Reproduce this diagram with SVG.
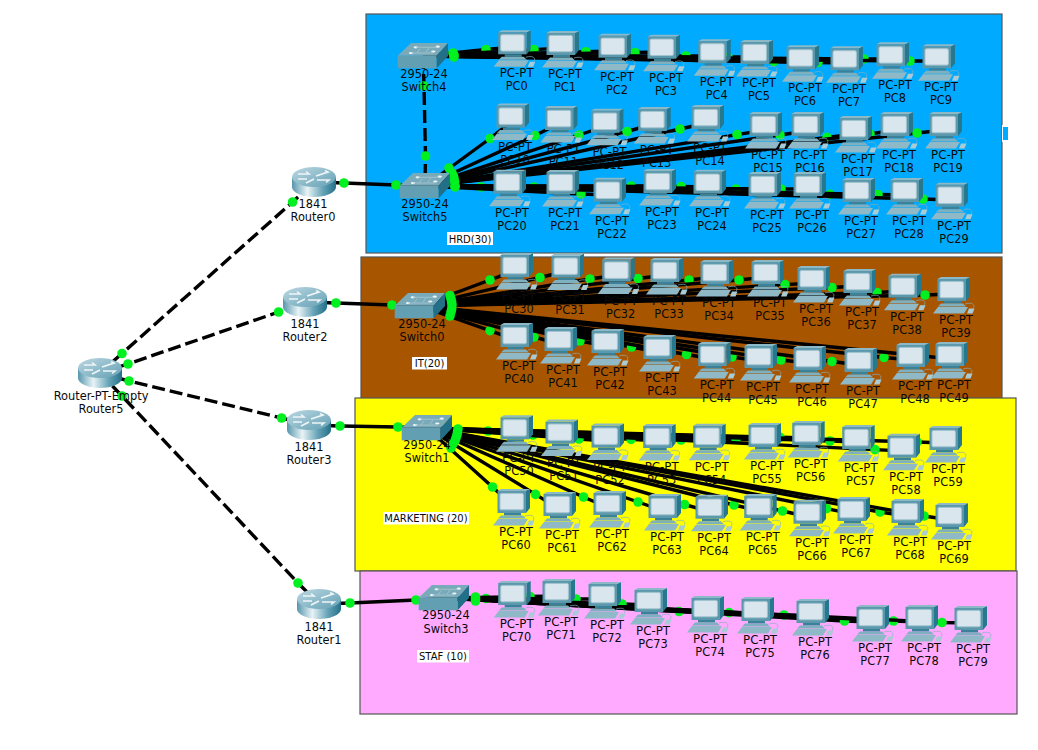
<svg xmlns="http://www.w3.org/2000/svg" width="1038" height="750" viewBox="0 0 1038 750">
<style>
text{font-family:"DejaVu Sans",sans-serif;font-size:11.4px;text-anchor:middle;fill:#0a0a0a}
[id^="PC"] text:first-of-type{font-size:11.8px}
.note text{font-size:10px}
.note rect{fill:#fff}
.area{stroke:#555;stroke-width:1.2}
.l{fill:none;stroke:#000;stroke-width:3.4;marker-mid:url(#dot)}
.d{stroke-width:3.4;stroke-dasharray:13 5}
.p{fill:#00f020}
</style>
<defs>
<marker id="dot" markerUnits="userSpaceOnUse" markerWidth="12" markerHeight="12" viewBox="-6 -6 12 12" refX="0" refY="0" overflow="visible"><circle r="4.8" fill="#00f020"/></marker>
<linearGradient id="rb" x1="0" x2="1" y1="0" y2="0"><stop offset="0" stop-color="#5796ac"/><stop offset=".35" stop-color="#e8f3f6"/><stop offset=".7" stop-color="#66a3b7"/><stop offset="1" stop-color="#237088"/></linearGradient>
<linearGradient id="rt" x1="0" x2="1" y1="0" y2="1"><stop offset="0" stop-color="#bcd8e2"/><stop offset="1" stop-color="#63a0b4"/></linearGradient>
<g id="pc">
<path d="M10,-41L14,-43V-24L10,-19Z" fill="#26788f"/>
<path d="M-18.5,-41L-15,-43H14L10,-41Z" fill="#8db9c7"/>
<rect x="-18.5" y="-41" width="28.5" height="22" fill="#5b98ab"/>
<rect x="-16" y="-38.6" width="23.4" height="16.4" rx="1.5" fill="#d9e6ed" stroke="#a2c4d0"/>
<path d="M-12,-19H5V-16.5H-12Z" fill="#3b8198"/>
<path d="M-15,-16.5H7L10,-13.5H-18Z" fill="#7fb0c0"/>
<path d="M-18,-13H12L8,-6.5H-23Z" fill="#8fb9c6"/>
<path d="M13,-11.5H18.5L16.5,-6.5H11Z" fill="#a9cbd6"/>
<path d="M9,-16C15,-18 20,-16 17,-11.5" fill="none" stroke="#86aebc" stroke-width=".7"/>
</g>
<g id="sw">
<path d="M-12,-13H25L13.7,-.3H-25.3Z" fill="#78aaba"/>
<rect x="-25.3" y="-.3" width="39" height="12.6" fill="#629fb2"/>
<path d="M25,-13V0L13.7,12.3V-.3Z" fill="#217088"/>
<g fill="#eef6f8"><ellipse cx="-7.3" cy="-8.7" rx="2.2" ry="1.1"/><ellipse cx="14.7" cy="-9.3" rx="2.2" ry="1.1"/><ellipse cx="-12" cy="-2.9" rx="2.2" ry="1.1"/><ellipse cx="10.3" cy="-4.5" rx="2.2" ry="1.1"/></g>
<path d="M-7,-8.7H14M-12,-3H10M-3,-7L-6,-3M6,-8L3,-4" stroke="#a9c8d2" stroke-width=".8" fill="none"/>
</g>
<g id="rt-icon">
<path d="M-22,-5V5A22,10 0 0 0 22,5V-5Z" fill="url(#rb)"/>
<ellipse cy="-5" rx="22" ry="10" fill="url(#rt)"/>
<path d="M-16,-8H-5L-8,-10.5M-16,-3H-7M2,-6L14,-10L11,-11.5M3,-2H15L12,0.5M-8,1L0,-3" fill="none" stroke="#eef5f7" stroke-width="1.6"/>
</g>
</defs>
<rect width="1038" height="750" fill="#fff"/>
<g id="areas">
<rect class="area" x="366" y="14" width="636" height="239" fill="#00aaff"/>
<rect x="1002" y="125" width="6" height="17" fill="#fff"/><rect x="1003" y="127" width="5" height="13" fill="#00aaff"/>
<rect class="area" x="361" y="257" width="641" height="142" fill="#a85500"/>
<rect class="area" x="355" y="398" width="661" height="173" fill="#ffff00"/>
<rect class="area" x="360" y="571" width="657" height="143" fill="#ffaaff"/>
</g>
<g id="connectors">
<polyline class="l d" points="100,373 122,353.5 292.6,202 314,182"/>
<polyline class="l d" points="100,373 128,364 278.6,312 305,302"/>
<polyline class="l d" points="100,373 129,381 281.6,418 309,425"/>
<polyline class="l d" points="100,373 122,396 298,583 319,604"/>
<polyline class="l" points="314,182 344,183 396,185 425,186"/>
<polyline class="l" points="305,302 336,303 392,305 420,306"/>
<polyline class="l" points="309,425 340,426 398,427 427,428"/>
<polyline class="l" points="319,604 350,603 416,600 444,598"/>
<polyline class="l d" points="423,56 424,86 425.5,156 425,186"/>
<polyline class="l" points="423,56 486,49.5 514,47"/>
<polyline class="l" points="423,56 534,49.6 562,48"/>
<polyline class="l" points="423,56 586,51.7 614,51"/>
<polyline class="l" points="423,56 635,52.5 663,52"/>
<polyline class="l" points="423,56 686,56 714,56"/>
<polyline class="l" points="423,56 728,57 756,57"/>
<polyline class="l" points="423,56 774,61.6 802,62"/>
<polyline class="l" points="423,56 818,62.5 846,63"/>
<polyline class="l" points="423,56 864,59 892,59"/>
<polyline class="l" points="423,56 910,61 938,61"/>
<polyline class="l" points="425,186 490,138.5 512,121"/>
<polyline class="l" points="425,186 535,135.5 560,123"/>
<polyline class="l" points="425,186 579,135 606,126"/>
<polyline class="l" points="425,186 627,131.5 654,124"/>
<polyline class="l" points="425,186 680,129 707,123"/>
<polyline class="l" points="425,186 737,134.6 765,130"/>
<polyline class="l" points="425,186 780,135 807,131"/>
<polyline class="l" points="425,186 827,137.4 855,134"/>
<polyline class="l" points="425,186 870,134 896,130"/>
<polyline class="l" points="425,186 917,133 945,130"/>
<polyline class="l" points="425,186 481,187 509,187"/>
<polyline class="l" points="425,186 534,187 562,187"/>
<polyline class="l" points="425,186 581,194 609,195"/>
<polyline class="l" points="425,186 631,186 659,186"/>
<polyline class="l" points="425,186 681,186.5 709,187"/>
<polyline class="l" points="425,186 736,189 764,189"/>
<polyline class="l" points="425,186 781,189 809,189"/>
<polyline class="l" points="425,186 830,194.4 858,195"/>
<polyline class="l" points="425,186 878,194.5 906,195"/>
<polyline class="l" points="425,186 923,199 951,200"/>
<polyline class="l" points="420,306 490,280 516,270"/>
<polyline class="l" points="420,306 540,277.5 567,271"/>
<polyline class="l" points="420,306 590,279 618,275"/>
<polyline class="l" points="420,306 638,278.5 666,275"/>
<polyline class="l" points="420,306 689,280 716,277"/>
<polyline class="l" points="420,306 739,280 767,277"/>
<polyline class="l" points="420,306 785,284.6 813,283"/>
<polyline class="l" points="420,306 832,287.5 859,286"/>
<polyline class="l" points="420,306 877,292.5 904,291"/>
<polyline class="l" points="420,306 925,295 953,294"/>
<polyline class="l" points="420,306 490,330.6 516,340"/>
<polyline class="l" points="420,306 534,337 560,344"/>
<polyline class="l" points="420,306 580,341 607,346"/>
<polyline class="l" points="420,306 631.5,347 659,352"/>
<polyline class="l" points="420,306 686.5,354.5 714,359"/>
<polyline class="l" points="420,306 732,357 760,361"/>
<polyline class="l" points="420,306 781,360 809,363"/>
<polyline class="l" points="420,306 832,361.5 860,365"/>
<polyline class="l" points="420,306 884,357.5 912,360"/>
<polyline class="l" points="420,306 923,356 951,359"/>
<polyline class="l" points="427,428 488,431 516,432"/>
<polyline class="l" points="427,428 533,435 561,437"/>
<polyline class="l" points="427,428 579,439 607,441"/>
<polyline class="l" points="427,428 631,439.4 659,441"/>
<polyline class="l" points="427,428 681,440 709,441"/>
<polyline class="l" points="427,428 736,439.5 764,440"/>
<polyline class="l" points="427,428 780,437.3 808,438"/>
<polyline class="l" points="427,428 830,441 858,442"/>
<polyline class="l" points="427,428 875,449.6 903,451"/>
<polyline class="l" points="427,428 917,442 945,443"/>
<polyline class="l" points="427,428 492.5,487 513,506"/>
<polyline class="l" points="427,428 535.5,494.4 559,509"/>
<polyline class="l" points="427,428 583.5,497 609,508"/>
<polyline class="l" points="427,428 638,502 664,511"/>
<polyline class="l" points="427,428 684.5,504.5 711,512"/>
<polyline class="l" points="427,428 734,505 760,511"/>
<polyline class="l" points="427,428 782.5,511 809,517"/>
<polyline class="l" points="427,428 826.5,508.7 853,514"/>
<polyline class="l" points="427,428 880,512 907,516"/>
<polyline class="l" points="427,428 924,516 951,520"/>
<polyline class="l" points="444,598 486,598.5 514,598"/>
<polyline class="l" points="444,598 530,596.5 558,596"/>
<polyline class="l" points="444,598 576,599 604,599"/>
<polyline class="l" points="444,598 622,604 650,605"/>
<polyline class="l" points="444,598 679,611.5 707,613"/>
<polyline class="l" points="444,598 729,612.6 757,614"/>
<polyline class="l" points="444,598 784,615 812,616"/>
<polyline class="l" points="444,598 844.5,621 872,622"/>
<polyline class="l" points="444,598 893.5,621 921,622"/>
<polyline class="l" points="444,598 942,622.5 970,623"/>
<g id="ports" class="p">
<circle cx="453" cy="53" r="4.8"/><circle cx="454" cy="55" r="4.8"/><circle cx="454" cy="57" r="4.8"/>
<circle cx="449" cy="168" r="4.8"/><circle cx="452" cy="173" r="4.8"/><circle cx="453.5" cy="176.5" r="4.8"/><circle cx="454" cy="179" r="4.8"/><circle cx="454.7" cy="182" r="4.8"/><circle cx="455" cy="186" r="4.8"/><circle cx="455" cy="187" r="4.8"/>
<circle cx="450" cy="295.5" r="4.8"/><circle cx="451" cy="299" r="4.8"/><circle cx="451.6" cy="302" r="4.8"/><circle cx="452" cy="305" r="4.8"/><circle cx="451.7" cy="309" r="4.8"/><circle cx="451" cy="312" r="4.8"/><circle cx="450" cy="316" r="4.8"/>
<circle cx="458" cy="429" r="4.8"/><circle cx="457.5" cy="432" r="4.8"/><circle cx="457" cy="435" r="4.8"/><circle cx="456" cy="438" r="4.8"/><circle cx="455" cy="441" r="4.8"/><circle cx="453" cy="444" r="4.8"/><circle cx="451" cy="448" r="4.8"/>
<circle cx="475.5" cy="597" r="4.8"/><circle cx="475.5" cy="599" r="4.8"/><circle cx="475.5" cy="601" r="4.8"/>
</g>
</g>
<g id="Router0" transform="translate(314,182)"><use href="#rt-icon"/><text x="-1" y="26">1841</text><text x="-1" y="39">Router0</text></g>
<g id="Router2" transform="translate(305,302)"><use href="#rt-icon"/><text y="26">1841</text><text y="39">Router2</text></g>
<g id="Router3" transform="translate(309,425)"><use href="#rt-icon"/><text y="26">1841</text><text y="39">Router3</text></g>
<g id="Router1" transform="translate(319,604)"><use href="#rt-icon"/><text y="27">1841</text><text y="40">Router1</text></g>
<g id="Router5" transform="translate(100,373)"><use href="#rt-icon"/><text x="1" y="27">Router-PT-Empty</text><text x="1" y="40">Router5</text></g>
<g id="Switch4" transform="translate(423,56)"><use href="#sw"/><text x="1" y="22">2950-24</text><text x="1" y="35">Switch4</text></g>
<g id="Switch5" transform="translate(425,186)"><use href="#sw"/><text y="22">2950-24</text><text y="35">Switch5</text></g>
<g id="Switch0" transform="translate(420,306)"><use href="#sw"/><text x="2" y="22">2950-24</text><text x="2" y="35">Switch0</text></g>
<g id="Switch1" transform="translate(427,428)"><use href="#sw"/><text y="21">2950-24</text><text y="34">Switch1</text></g>
<g id="Switch3" transform="translate(444,598)"><use href="#sw"/><text x="2" y="21">2950-24</text><text x="2" y="35">Switch3</text></g>
<g id="PC0" transform="translate(516.7,73.3)"><use href="#pc"/><text y="4">PC-PT</text><text y="17">PC0</text></g>
<g id="PC1" transform="translate(565,74)"><use href="#pc"/><text y="4">PC-PT</text><text y="17">PC1</text></g>
<g id="PC2" transform="translate(617,76.7)"><use href="#pc"/><text y="4">PC-PT</text><text y="17">PC2</text></g>
<g id="PC3" transform="translate(666,77.7)"><use href="#pc"/><text y="4">PC-PT</text><text y="17">PC3</text></g>
<g id="PC4" transform="translate(716.7,82.3)"><use href="#pc"/><text y="4">PC-PT</text><text y="17">PC4</text></g>
<g id="PC5" transform="translate(759,83)"><use href="#pc"/><text y="4">PC-PT</text><text y="17">PC5</text></g>
<g id="PC6" transform="translate(805,88.3)"><use href="#pc"/><text y="4">PC-PT</text><text y="17">PC6</text></g>
<g id="PC7" transform="translate(849,89.3)"><use href="#pc"/><text y="4">PC-PT</text><text y="17">PC7</text></g>
<g id="PC8" transform="translate(895,85.3)"><use href="#pc"/><text y="4">PC-PT</text><text y="17">PC8</text></g>
<g id="PC9" transform="translate(941,87.3)"><use href="#pc"/><text y="4">PC-PT</text><text y="17">PC9</text></g>
<g id="PC10" transform="translate(515,146.6)"><use href="#pc"/><text y="4">PC-PT</text><text y="17">PC10</text></g>
<g id="PC11" transform="translate(563.4,149)"><use href="#pc"/><text y="4">PC-PT</text><text y="17">PC11</text></g>
<g id="PC12" transform="translate(609.4,151.7)"><use href="#pc"/><text y="4">PC-PT</text><text y="17">PC12</text></g>
<g id="PC13" transform="translate(656.7,150)"><use href="#pc"/><text y="4">PC-PT</text><text y="17">PC13</text></g>
<g id="PC14" transform="translate(710,148)"><use href="#pc"/><text y="4">PC-PT</text><text y="17">PC14</text></g>
<g id="PC15" transform="translate(768,155)"><use href="#pc"/><text y="4">PC-PT</text><text y="17">PC15</text></g>
<g id="PC16" transform="translate(810,155)"><use href="#pc"/><text y="4">PC-PT</text><text y="17">PC16</text></g>
<g id="PC17" transform="translate(858,159)"><use href="#pc"/><text y="4">PC-PT</text><text y="17">PC17</text></g>
<g id="PC18" transform="translate(899,155)"><use href="#pc"/><text y="4">PC-PT</text><text y="17">PC18</text></g>
<g id="PC19" transform="translate(948,155)"><use href="#pc"/><text y="4">PC-PT</text><text y="17">PC19</text></g>
<g id="PC20" transform="translate(512,212.7)"><use href="#pc"/><text y="4">PC-PT</text><text y="17">PC20</text></g>
<g id="PC21" transform="translate(565,213)"><use href="#pc"/><text y="4">PC-PT</text><text y="17">PC21</text></g>
<g id="PC22" transform="translate(612,220.7)"><use href="#pc"/><text y="4">PC-PT</text><text y="17">PC22</text></g>
<g id="PC23" transform="translate(662,212)"><use href="#pc"/><text y="4">PC-PT</text><text y="17">PC23</text></g>
<g id="PC24" transform="translate(712,212.7)"><use href="#pc"/><text y="4">PC-PT</text><text y="17">PC24</text></g>
<g id="PC25" transform="translate(767,215)"><use href="#pc"/><text y="4">PC-PT</text><text y="17">PC25</text></g>
<g id="PC26" transform="translate(812,215)"><use href="#pc"/><text y="4">PC-PT</text><text y="17">PC26</text></g>
<g id="PC27" transform="translate(861,221)"><use href="#pc"/><text y="4">PC-PT</text><text y="17">PC27</text></g>
<g id="PC28" transform="translate(909,221)"><use href="#pc"/><text y="4">PC-PT</text><text y="17">PC28</text></g>
<g id="PC29" transform="translate(954,225.7)"><use href="#pc"/><text y="4">PC-PT</text><text y="17">PC29</text></g>
<g id="PC30" transform="translate(519,296)"><use href="#pc"/><text y="4">PC-PT</text><text y="17">PC30</text></g>
<g id="PC31" transform="translate(570,296.6)"><use href="#pc"/><text y="4">PC-PT</text><text y="17">PC31</text></g>
<g id="PC32" transform="translate(620.7,300.6)"><use href="#pc"/><text y="4">PC-PT</text><text y="17">PC32</text></g>
<g id="PC33" transform="translate(669,301)"><use href="#pc"/><text y="4">PC-PT</text><text y="17">PC33</text></g>
<g id="PC34" transform="translate(719,303)"><use href="#pc"/><text y="4">PC-PT</text><text y="17">PC34</text></g>
<g id="PC35" transform="translate(770,303)"><use href="#pc"/><text y="4">PC-PT</text><text y="17">PC35</text></g>
<g id="PC36" transform="translate(816,309)"><use href="#pc"/><text y="4">PC-PT</text><text y="17">PC36</text></g>
<g id="PC37" transform="translate(862,312)"><use href="#pc"/><text y="4">PC-PT</text><text y="17">PC37</text></g>
<g id="PC38" transform="translate(907,316.7)"><use href="#pc"/><text y="4">PC-PT</text><text y="17">PC38</text></g>
<g id="PC39" transform="translate(956,320)"><use href="#pc"/><text y="4">PC-PT</text><text y="17">PC39</text></g>
<g id="PC40" transform="translate(519,366)"><use href="#pc"/><text y="4">PC-PT</text><text y="17">PC40</text></g>
<g id="PC41" transform="translate(563,370)"><use href="#pc"/><text y="4">PC-PT</text><text y="17">PC41</text></g>
<g id="PC42" transform="translate(610,372)"><use href="#pc"/><text y="4">PC-PT</text><text y="17">PC42</text></g>
<g id="PC43" transform="translate(662,378)"><use href="#pc"/><text y="4">PC-PT</text><text y="17">PC43</text></g>
<g id="PC44" transform="translate(716.7,385)"><use href="#pc"/><text y="4">PC-PT</text><text y="17">PC44</text></g>
<g id="PC45" transform="translate(763,387)"><use href="#pc"/><text y="4">PC-PT</text><text y="17">PC45</text></g>
<g id="PC46" transform="translate(812,389)"><use href="#pc"/><text y="4">PC-PT</text><text y="17">PC46</text></g>
<g id="PC47" transform="translate(863,391)"><use href="#pc"/><text y="4">PC-PT</text><text y="17">PC47</text></g>
<g id="PC48" transform="translate(915,386)"><use href="#pc"/><text y="4">PC-PT</text><text y="17">PC48</text></g>
<g id="PC49" transform="translate(954,385)"><use href="#pc"/><text y="4">PC-PT</text><text y="17">PC49</text></g>
<g id="PC50" transform="translate(519,458.3)"><use href="#pc"/><text y="4">PC-PT</text><text y="17">PC50</text></g>
<g id="PC51" transform="translate(564,462.6)"><use href="#pc"/><text y="4">PC-PT</text><text y="17">PC51</text></g>
<g id="PC52" transform="translate(610,466.6)"><use href="#pc"/><text y="4">PC-PT</text><text y="17">PC52</text></g>
<g id="PC53" transform="translate(661.7,467)"><use href="#pc"/><text y="4">PC-PT</text><text y="17">PC53</text></g>
<g id="PC54" transform="translate(711.7,466.7)"><use href="#pc"/><text y="4">PC-PT</text><text y="17">PC54</text></g>
<g id="PC55" transform="translate(767,466)"><use href="#pc"/><text y="4">PC-PT</text><text y="17">PC55</text></g>
<g id="PC56" transform="translate(810.7,464)"><use href="#pc"/><text y="4">PC-PT</text><text y="17">PC56</text></g>
<g id="PC57" transform="translate(860.7,468)"><use href="#pc"/><text y="4">PC-PT</text><text y="17">PC57</text></g>
<g id="PC58" transform="translate(906,476.7)"><use href="#pc"/><text y="4">PC-PT</text><text y="17">PC58</text></g>
<g id="PC59" transform="translate(948,469)"><use href="#pc"/><text y="4">PC-PT</text><text y="17">PC59</text></g>
<g id="PC60" transform="translate(516,532)"><use href="#pc"/><text y="4">PC-PT</text><text y="17">PC60</text></g>
<g id="PC61" transform="translate(562,535)"><use href="#pc"/><text y="4">PC-PT</text><text y="17">PC61</text></g>
<g id="PC62" transform="translate(612,534)"><use href="#pc"/><text y="4">PC-PT</text><text y="17">PC62</text></g>
<g id="PC63" transform="translate(667,537)"><use href="#pc"/><text y="4">PC-PT</text><text y="17">PC63</text></g>
<g id="PC64" transform="translate(714,537.7)"><use href="#pc"/><text y="4">PC-PT</text><text y="17">PC64</text></g>
<g id="PC65" transform="translate(762.7,537)"><use href="#pc"/><text y="4">PC-PT</text><text y="17">PC65</text></g>
<g id="PC66" transform="translate(812,542.7)"><use href="#pc"/><text y="4">PC-PT</text><text y="17">PC66</text></g>
<g id="PC67" transform="translate(856,540)"><use href="#pc"/><text y="4">PC-PT</text><text y="17">PC67</text></g>
<g id="PC68" transform="translate(910,542)"><use href="#pc"/><text y="4">PC-PT</text><text y="17">PC68</text></g>
<g id="PC69" transform="translate(954,546)"><use href="#pc"/><text y="4">PC-PT</text><text y="17">PC69</text></g>
<g id="PC70" transform="translate(516.7,624)"><use href="#pc"/><text y="4">PC-PT</text><text y="17">PC70</text></g>
<g id="PC71" transform="translate(561,622)"><use href="#pc"/><text y="4">PC-PT</text><text y="17">PC71</text></g>
<g id="PC72" transform="translate(607,625)"><use href="#pc"/><text y="4">PC-PT</text><text y="17">PC72</text></g>
<g id="PC73" transform="translate(653,631)"><use href="#pc"/><text y="4">PC-PT</text><text y="17">PC73</text></g>
<g id="PC74" transform="translate(710,639)"><use href="#pc"/><text y="4">PC-PT</text><text y="17">PC74</text></g>
<g id="PC75" transform="translate(760,640)"><use href="#pc"/><text y="4">PC-PT</text><text y="17">PC75</text></g>
<g id="PC76" transform="translate(815,642)"><use href="#pc"/><text y="4">PC-PT</text><text y="17">PC76</text></g>
<g id="PC77" transform="translate(875,648)"><use href="#pc"/><text y="4">PC-PT</text><text y="17">PC77</text></g>
<g id="PC78" transform="translate(924,648)"><use href="#pc"/><text y="4">PC-PT</text><text y="17">PC78</text></g>
<g id="PC79" transform="translate(973,649)"><use href="#pc"/><text y="4">PC-PT</text><text y="17">PC79</text></g>
<g id="notes" class="note">
<rect x="447" y="232" width="46" height="13"/><text x="470" y="242.5">HRD(30)</text>
<rect x="412" y="357" width="35" height="12.5"/><text x="429.5" y="367">IT(20)</text>
<rect x="383" y="512" width="86" height="12.5"/><text x="426" y="522">MARKETING (20)</text>
<rect x="417" y="650" width="52" height="12.5"/><text x="443" y="660">STAF (10)</text>
</g>
</svg>
